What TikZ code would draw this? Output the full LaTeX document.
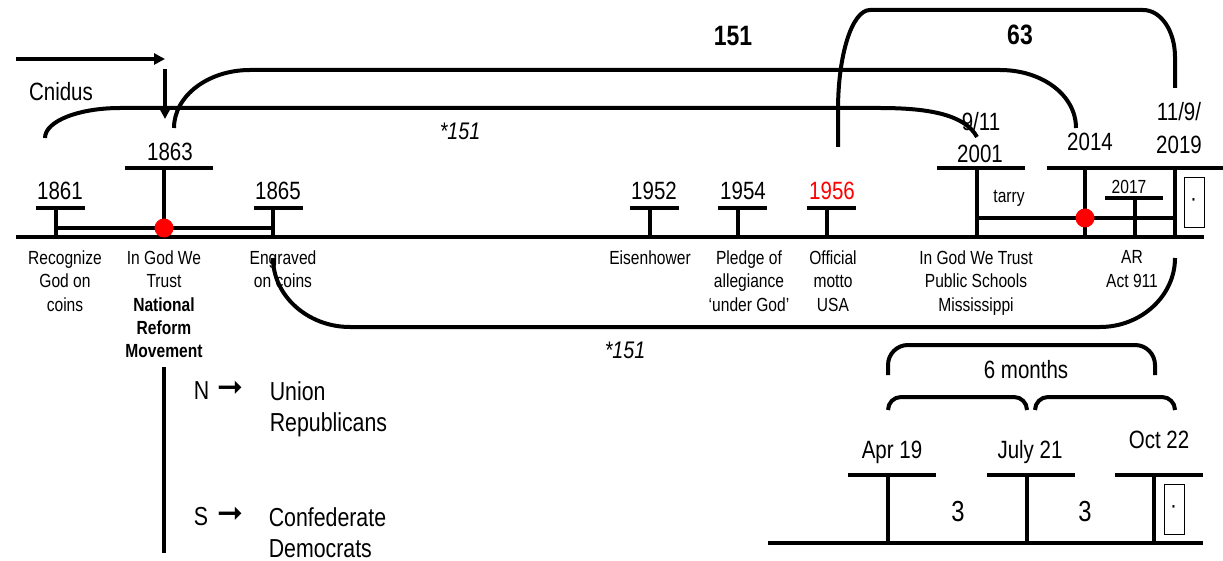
\documentclass[tikz,border=0pt]{standalone}
\usepackage{fontspec}
\setmainfont{Liberation Sans}[FakeStretch=0.82]
\newfontfamily\symfont{DejaVu Sans}
\usetikzlibrary{arrows.meta, positioning}

\newcommand{\fsz}[2]{\fontsize{#1}{#2}\selectfont}

\begin{document}
\begin{tikzpicture}[
    x=1pt, y=-1pt,
    line width=3.6pt,
    year/.style={font=\fsz{25}{29}, inner sep=0pt},
    note/.style={font=\fsz{19}{23.3}, align=center, inner sep=0pt, anchor=north},
    side/.style={font=\fsz{26}{31}, inner sep=0pt, anchor=base west},
    party/.style={font=\fsz{26}{31}, align=left, inner sep=0pt, anchor=north west},
    sym/.style={font=\symfont\fsz{31}{34}, inner sep=0pt},
    count/.style={font=\bfseries\fsz{28}{32}, inner sep=0pt},
    starred/.style={font=\itshape\fsz{24}{28}, inner sep=0pt},
    span/.style={line width=4pt},
    pointer/.style={-{Triangle[length=11pt, width=11pt]}, line width=3.4pt},
    reddot/.style={circle, fill=red, inner sep=0pt, minimum size=19pt},
    door/.style={draw, line width=0.8pt, minimum width=20pt, minimum height=50pt, inner sep=0pt, font=\bfseries\fsz{17}{18}},
]
    \useasboundingbox (0,0) rectangle (1223,561);

    % Main timeline
    \coordinate (tl0) at (16,237);
    \coordinate (tl1) at (1204,237);
    \draw (tl0) -- (tl1);

    % Civil war ticks
    \draw (36,208) -- (85,208) (56,208) -- (56,237);
    \draw (125,168) -- (213,168) (164,168) -- (164,237);
    \draw (254,208) -- (303,208) (273,208) -- (273,237);
    \draw (56,228) -- (273,228);
    \node[reddot] (dot1863) at (164,228) {};

    % 1950s ticks
    \foreach \x in {650, 738, 827}
        \draw (\x-20,208) -- (\x+29,208) (\x,208) -- (\x,237);

    % Recent ticks
    \draw (937,168) -- (1025,168) (977,168) -- (977,237);
    \draw (1047,168) -- (1223,168);
    \draw (1085,168) -- (1085,237);
    \draw (1175,168) -- (1175,237);
    \draw (977,218) -- (1175,218);
    \draw (1105,198) -- (1163,198) (1135,198) -- (1135,237);
    \node[reddot] (dot2014) at (1085,218) {};
    \node[door] (door1) at (1194,202) {·};

    % Year labels
    \node[year] (n1861) at (60,191) {1861};
    \node[year] (n1863) at (170,152) {1863};
    \node[year] (n1865) at (278,191) {1865};
    \node[year] (n1952) at (654,191) {1952};
    \node[year] (n1954) at (743,191) {1954};
    \node[year, text=red] (n1956) at (832,191) {1956};
    \node[year] (n911) at (981,122) {9/11};
    \node[year] (n2001) at (980,154) {2001};
    \node[year] (n2014) at (1090,142) {2014};
    \node[year] (n1119) at (1179,112) {11/9/};
    \node[year] (n2019) at (1179,145) {2019};
    \node[font=\fsz{19}{22}, inner sep=0pt] (n2017) at (1129,187) {2017};
    \node[font=\fsz{19}{22}, inner sep=0pt] (tarry) at (1009,198) {tarry};

    % Event labels
    \node[note] (l1861) at (65,249) {Recognize\\God on\\coins};
    \node[note] (l1863) at (164,249) {In God We\\Trust\\\textbf{National}\\\textbf{Reform}\\\textbf{Movement}};
    \node[note] (l1865) at (283,249) {Engraved\\on coins};
    \node[note] (l1952) at (650,249) {Eisenhower};
    \node[note] (l1954) at (749,249) {Pledge of\\allegiance\\‘under God’};
    \node[note] (l1956) at (833,249) {Official\\motto\\USA};
    \node[note] (l2001) at (976,249) {In God We Trust\\Public Schools\\Mississippi};
    \node[note] (l2017) at (1132,249) {AR\\Act 911};

    % Cnidus arrows
    \node[font=\fsz{25}{29}, inner sep=0pt] (cnidus) at (61,92) {Cnidus};
    \coordinate (ar0) at (16,59);
    \coordinate (ar1) at (165,59);
    \coordinate (ad0) at (165,69);
    \coordinate (ad1) at (165,119);
    \draw[pointer] (ar0) -- (ar1);
    \draw[pointer] (ad0) -- (ad1);

    % Spans
    \coordinate (sa0) at (45,138);
    \coordinate (sa1) at (977,137);
    \draw[span] (sa0) .. controls (45,121) and (79,108) .. (120,108) -- (880,108)
        .. controls (930,108) and (965,115) .. (sa1);
    \coordinate (sb0) at (174,128);
    \coordinate (sb1) at (1076,128);
    \draw[span] (sb0) .. controls (174,96) and (208,70) .. (250,70) -- (1000,70)
        .. controls (1042,70) and (1076,95) .. (sb1);
    \coordinate (sc0) at (838,147);
    \coordinate (sc1) at (1175,88);
    \draw[span] (sc0) -- (838,110) .. controls (838,55) and (852,10) .. (870,10) -- (1143,10)
        .. controls (1161,10) and (1175,31) .. (1175,57) -- (sc1);
    \coordinate (sd0) at (273,258);
    \coordinate (sd1) at (1175,258);
    \draw[span] (sd0) .. controls (273,296) and (308,327) .. (350,327) -- (1100,327)
        .. controls (1141,327) and (1175,296) .. (sd1);

    \node[count] (c151) at (733,36) {151};
    \node[count] (c63) at (1020,35) {63};
    \node[starred] (s151a) at (460,131) {*151};
    \node[starred] (s151b) at (625,350) {*151};

    % North / South
    \coordinate (ns0) at (164,367);
    \coordinate (ns1) at (164,553);
    \draw (ns0) -- (ns1);
    \node[side] (north) at (192,399) {N};
    \node[sym] (arN) at (230,389) {➞};
    \node[party] (union) at (268,380) {Union\\Republicans};
    \node[side] (south) at (192,525) {S};
    \node[sym] (arS) at (230,515) {➞};
    \node[party] (confed) at (267,506) {Confederate\\Democrats};

    % Six months timeline
    \coordinate (bt0) at (768,543);
    \coordinate (bt1) at (1203,543);
    \draw (bt0) -- (bt1);
    \draw (848,475) -- (936,475) (888,475) -- (888,543);
    \draw (987,475) -- (1075,475) (1027,475) -- (1027,543);
    \draw (1115,475) -- (1203,475) (1154,475) -- (1154,543);
    \node[door] (door2) at (1174,509) {·};
    \node[year, anchor=base] (apr) at (892,458) {Apr 19};
    \node[year, anchor=base] (jul) at (1030,458) {July 21};
    \node[year, anchor=base] (oct) at (1159,448) {Oct 22};
    \node[font=\fsz{29}{33}, inner sep=0pt] (m3a) at (958,512) {3};
    \node[font=\fsz{29}{33}, inner sep=0pt] (m3b) at (1085,512) {3};
    \draw[span, rounded corners=20pt] (888,375) -- (888,345) -- (1155,345) -- (1155,375);
    \draw[span, rounded corners=13pt] (888,410) -- (888,397) -- (1027,397) -- (1027,410);
    \draw[span, rounded corners=13pt] (1035,410) -- (1035,397) -- (1175,397) -- (1175,410);
    \node[year, anchor=base] (six) at (1026,378) {6 months};
\end{tikzpicture}
\end{document}
